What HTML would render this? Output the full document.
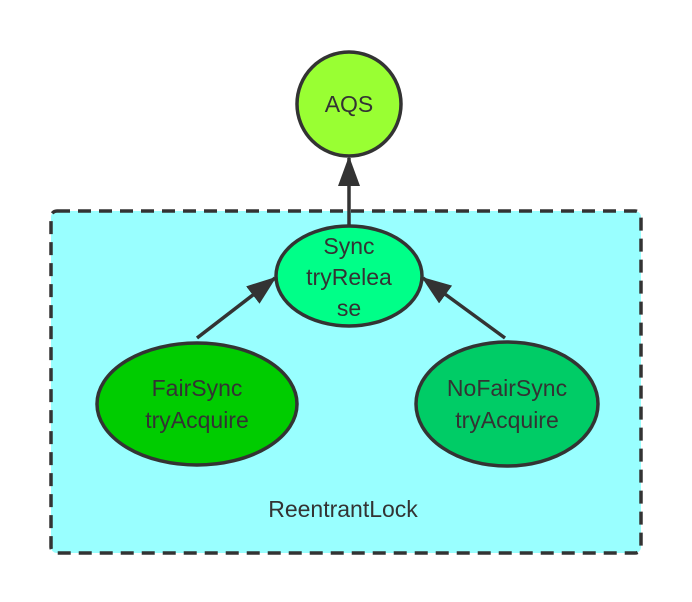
<!DOCTYPE html>
<html><head><style>body{margin:0;background:#fff}svg{display:block}text{font-family:"Liberation Sans",sans-serif;font-size:23px;fill:#333;text-anchor:middle}</style></head>
<body>
<svg width="692" height="602" viewBox="0 0 692 602">
<defs>
<marker id="b" markerWidth="30" markerHeight="24" refX="28" refY="12" orient="auto" markerUnits="userSpaceOnUse"><path d="M0,1 L30,12 L0,23z" fill="#333"/></marker></defs>
<rect x="51" y="211" width="590" height="342" rx="6" fill="#99ffff" stroke="#333" stroke-width="3.5" stroke-dasharray="13,8"/>
<circle cx="349" cy="104" r="52" fill="#99ff33" stroke="#333" stroke-width="3.5"/>
<text x="349" y="112">AQS</text>
<line x1="349" y1="225" x2="349" y2="158" stroke="#333" stroke-width="3.5" marker-end="url(#b)"/>
<line x1="197" y1="338" x2="275" y2="278" stroke="#333" stroke-width="3.5" marker-end="url(#b)"/>
<line x1="505" y1="338" x2="423" y2="278" stroke="#333" stroke-width="3.5" marker-end="url(#b)"/>
<ellipse cx="349" cy="276" rx="73" ry="50" fill="#00ff88" stroke="#333" stroke-width="3.5"/>
<text x="349" y="254">Sync</text>
<text x="349" y="285">tryRelea</text>
<text x="349" y="316">se</text>
<ellipse cx="197" cy="404" rx="100" ry="61" fill="#00cc00" stroke="#333" stroke-width="3.5"/>
<text x="197" y="396">FairSync</text>
<text x="197" y="428">tryAcquire</text>
<ellipse cx="507" cy="404" rx="91" ry="62" fill="#00cc66" stroke="#333" stroke-width="3.5"/>
<text x="507" y="396">NoFairSync</text>
<text x="507" y="428">tryAcquire</text>
<text x="343" y="517">ReentrantLock</text>
</svg>
</body></html>
